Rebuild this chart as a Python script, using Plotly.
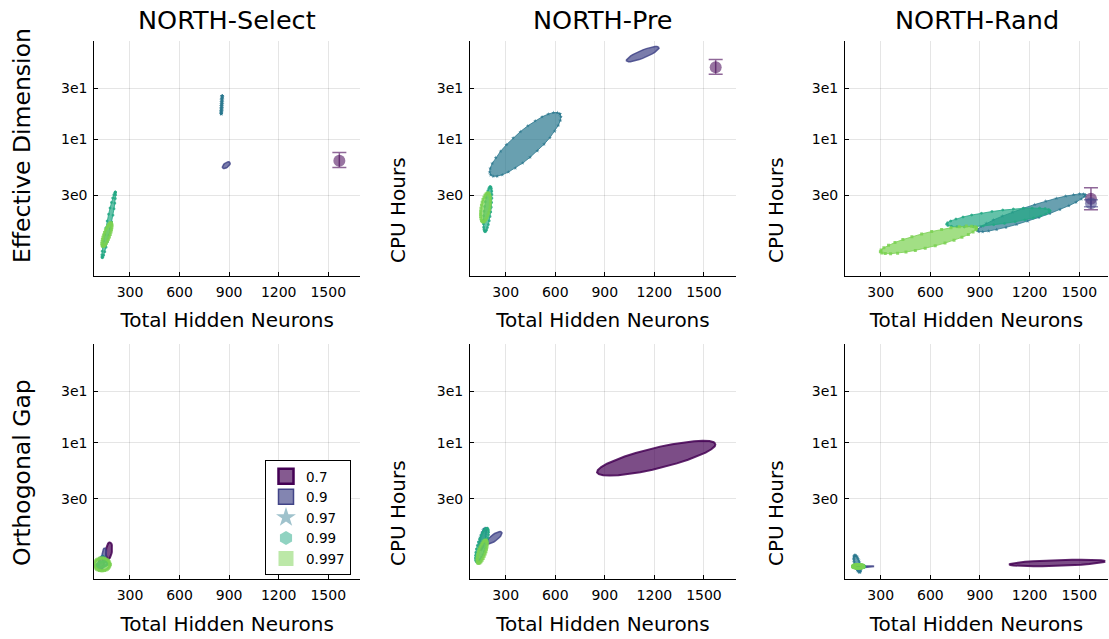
import numpy as np
import plotly.graph_objects as go

# ---------------- data ----------------
levels = ["0.7", "0.9", "0.97", "0.99", "0.997"]
level_colors = ["#440154", "#414487", "#2a788e", "#22a884", "#7ad151"]
level_symbols = ["square", "square", "star", "hexagon", "square"]

panel_titles = ["NORTH-Select", "NORTH-Pre", "NORTH-Rand"]
y_labels = ["Effective Dimension", "CPU Hours", "CPU Hours",
            "Orthogonal Gap", "CPU Hours", "CPU Hours"]
x_label = "Total Hidden Neurons"
x_tick_vals = [300, 600, 900, 1200, 1500]
y_tick_vals = [3, 10, 30]
y_tick_text = ["3e0", "1e1", "3e1"]

# ellipses: (level, x_start, y_start, x_end, y_end, minor/major ratio)
select_top_ellipses = [
    ("0.9", 861, 5.40, 905, 6.10, 0.5),
    ("0.97", 852, 17.3, 858, 25.6, 0.08),
    ("0.99", 132, 0.78, 211, 3.22, 0.07),
    ("0.997", 136, 1.00, 185, 1.65, 0.25),
]
pre_top_ellipses = [
    ("0.9", 1031, 54.3, 1228, 72.5, 0.22),
    ("0.97", 209, 4.65, 628, 17.3, 0.28),
    ("0.99", 175, 1.37, 207, 3.61, 0.15),
    ("0.997", 163, 1.69, 193, 3.15, 0.3),
]
rand_top_ellipses = [
    ("0.97", 883, 1.40, 1536, 3.02, 0.12),
    ("0.99", 698, 1.61, 1323, 2.15, 0.13),
    ("0.997", 298, 0.89, 879, 1.48, 0.15),
]
select_bottom_ellipses = [
    ("0.7", 167, 0.82, 179, 1.18, 0.35),
    ("0.9", 141, 0.77, 147, 1.04, 0.3),
    ("0.97", 118, 0.65, 136, 0.87, 0.4),
    ("0.99", 94, 0.70, 167, 0.76, 0.4),
    ("0.997", 82, 0.73, 179, 0.73, 0.8),
]
pre_bottom_ellipses = [
    ("0.7", 853, 5.28, 1570, 9.72, 0.17),
    ("0.9", 185, 1.15, 276, 1.46, 0.35),
    ("0.97", 146, 1.00, 176, 1.58, 0.25),
    ("0.99", 125, 0.77, 188, 1.59, 0.25),
    ("0.997", 134, 0.75, 180, 1.23, 0.3),
]
rand_bottom_ellipses = [
    ("0.7", 1077, 0.73, 1657, 0.78, 0.06),
    ("0.9", 133, 0.69, 260, 0.70, 0.08),
    ("0.97", 143, 0.89, 173, 0.62, 0.3),
    ("0.99", 131, 0.70, 203, 0.70, 0.3),
    ("0.997", 131, 0.70, 197, 0.70, 0.35),
]

# points with error bars: (level, x, y, y_low, y_high)
select_top_points = [("0.7", 1567, 6.3, 5.45, 7.55)]
pre_top_points = [("0.7", 1571, 47.2, 40.7, 56.0)]
rand_top_points = [("0.7", 1571, 2.79, 2.20, 3.53),
                   ("0.9", 1571, 2.53, 2.35, 2.72)]

panel_ellipses = [select_top_ellipses, pre_top_ellipses, rand_top_ellipses,
                  select_bottom_ellipses, pre_bottom_ellipses, rand_bottom_ellipses]
panel_points = [select_top_points, pre_top_points, rand_top_points, [], [], []]

# ---------------- layout helpers ----------------
W, H = 1109, 639


def PX(p):
    return p / W


def PY(p):
    return 1 - p / H


col_domains = [[PX(94.3), PX(360)], [PX(470), PX(736)], [PX(845), PX(1108)]]
col_ranges = [[84, 1692], [84, 1694], [84, 1674]]
row_domains = [[PY(275.7), PY(40.7)], [PY(579.3), PY(343.7)]]
y_range = [-0.275, 1.923]

XU = 6.05        # x units per screen pixel (shape aspect)
YU = 1 / 107.0   # log10 decades per screen pixel


def rgba(hexc, a):
    h = hexc.lstrip("#")
    r, g, b = int(h[0:2], 16), int(h[2:4], 16), int(h[4:6], 16)
    return f"rgba({r},{g},{b},{a})"


def ellipse(xa, ya, xb, yb, w, n=30):
    ua, va = xa / XU, np.log10(ya) / YU
    ub, vb = xb / XU, np.log10(yb) / YU
    cu, cv = (ua + ub) / 2, (va + vb) / 2
    du, dv = (ub - ua) / 2, (vb - va) / 2
    nu, nv = -dv * w, du * w
    t = np.linspace(0, 2 * np.pi, n + 1)
    u = cu + du * np.cos(t) + nu * np.sin(t)
    v = cv + dv * np.cos(t) + nv * np.sin(t)
    return u * XU, 10 ** (v * YU)


fig = go.Figure()
FONT = "DejaVu Sans"

for i in range(6):
    sfx = "" if i == 0 else str(i + 1)
    xa, ya = "x" + sfx, "y" + sfx
    for (lvl, x0, y0, x1, y1, w) in panel_ellipses[i]:
        k = levels.index(lvl)
        col = level_colors[k]
        ex, ey = ellipse(x0, y0, x1, y1, w)
        if k <= 1:
            mode = "lines"
            line = dict(color=rgba(col, 0.85), width=2 if k == 0 else 1.5)
            marker = None
        else:
            mode = "lines+markers"
            line = dict(color=rgba(col, 0.8), width=1)
            marker = dict(symbol=level_symbols[k], size=3, color=rgba(col, 0.85),
                          line=dict(width=0))
        tr = go.Scatter(x=ex, y=ey, mode=mode, fill="toself",
                        fillcolor=rgba(col, 0.7), line=line,
                        xaxis=xa, yaxis=ya, showlegend=False, hoverinfo="skip")
        if marker:
            tr.marker = marker
        fig.add_trace(tr)
    for (lvl, px, py, lo, hi) in panel_points[i]:
        k = levels.index(lvl)
        col = level_colors[k]
        fig.add_trace(go.Scatter(
            x=[px], y=[py], mode="markers",
            marker=dict(symbol="circle", size=12, color=rgba(col, 0.55), line=dict(width=0)),
            error_y=dict(type="data", symmetric=False, array=[hi - py], arrayminus=[py - lo],
                         color=rgba(col, 0.6), thickness=1.5, width=7),
            xaxis=xa, yaxis=ya, showlegend=False, hoverinfo="skip"))

# legend entries
legend_styles = [
    dict(size=15, color=rgba(level_colors[0], 0.65), line=dict(color=level_colors[0], width=2.5)),
    dict(size=15, color=rgba(level_colors[1], 0.65), line=dict(color=level_colors[1], width=1.5)),
    dict(size=15, color=rgba(level_colors[2], 0.45), line=dict(width=0)),
    dict(size=14, color=rgba(level_colors[3], 0.5), line=dict(width=0)),
    dict(size=15, color=rgba(level_colors[4], 0.5), line=dict(width=0)),
]
for k, lvl in enumerate(levels):
    m = dict(symbol=level_symbols[k], **legend_styles[k])
    fig.add_trace(go.Scatter(x=[None], y=[None], mode="markers", name=lvl,
                             marker=m, xaxis="x4", yaxis="y4", showlegend=True))

layout = dict(
    width=W, height=H, margin=dict(l=0, r=0, t=0, b=0),
    paper_bgcolor="white", plot_bgcolor="white",
    font=dict(family=FONT, color="black"),
    legend=dict(x=PX(351), y=PY(460), xanchor="right", yanchor="top",
                bgcolor="white", bordercolor="black", borderwidth=1,
                font=dict(family=FONT, size=13.5), itemwidth=30,
                tracegroupgap=0),
)
annotations = []
for i in range(6):
    r, c = divmod(i, 3)
    sfx = "" if i == 0 else str(i + 1)
    layout["xaxis" + sfx] = dict(
        domain=col_domains[c], range=col_ranges[c], anchor="y" + sfx,
        tickvals=x_tick_vals, ticks="inside", ticklen=4, tickcolor="black",
        showline=True, linecolor="black", linewidth=1, mirror=False,
        showgrid=True, gridcolor="rgba(0,0,0,0.1)", gridwidth=1, zeroline=False,
        tickfont=dict(size=14, family=FONT), ticklabelstandoff=3,
        title=dict(text=x_label, font=dict(size=20, family=FONT), standoff=14),
    )
    layout["yaxis" + sfx] = dict(
        domain=row_domains[r], type="log", range=y_range, anchor="x" + sfx,
        tickvals=y_tick_vals, ticktext=y_tick_text, ticks="inside", ticklen=4,
        tickcolor="black", showline=True, linecolor="black", linewidth=1,
        mirror=False, showgrid=True, gridcolor="rgba(0,0,0,0.1)", gridwidth=1,
        zeroline=False, tickfont=dict(size=14, family=FONT), ticklabelstandoff=3,
    )
    # y labels
    xc = [21.5, 398, 776][c]
    size = 23.5 if c == 0 else 20
    ybot = [265, 568][r]
    annotations.append(dict(
        text=y_labels[i], textangle=-90, xref="paper", yref="paper",
        x=PX(xc), y=PY(ybot), xanchor="center", yanchor="bottom",
        showarrow=False, font=dict(size=size, family=FONT, color="black")))

for c, t in enumerate(panel_titles):
    xc = (col_domains[c][0] + col_domains[c][1]) / 2
    annotations.append(dict(
        text=t, xref="paper", yref="paper", x=xc, y=PY(19.7),
        xanchor="center", yanchor="middle", showarrow=False,
        font=dict(size=25.5, family=FONT, color="black")))

layout["annotations"] = annotations
fig.update_layout(**layout)
fig.write_html("out.html", config={"displayModeBar": False},
               post_script="document.body.style.margin='0';")
